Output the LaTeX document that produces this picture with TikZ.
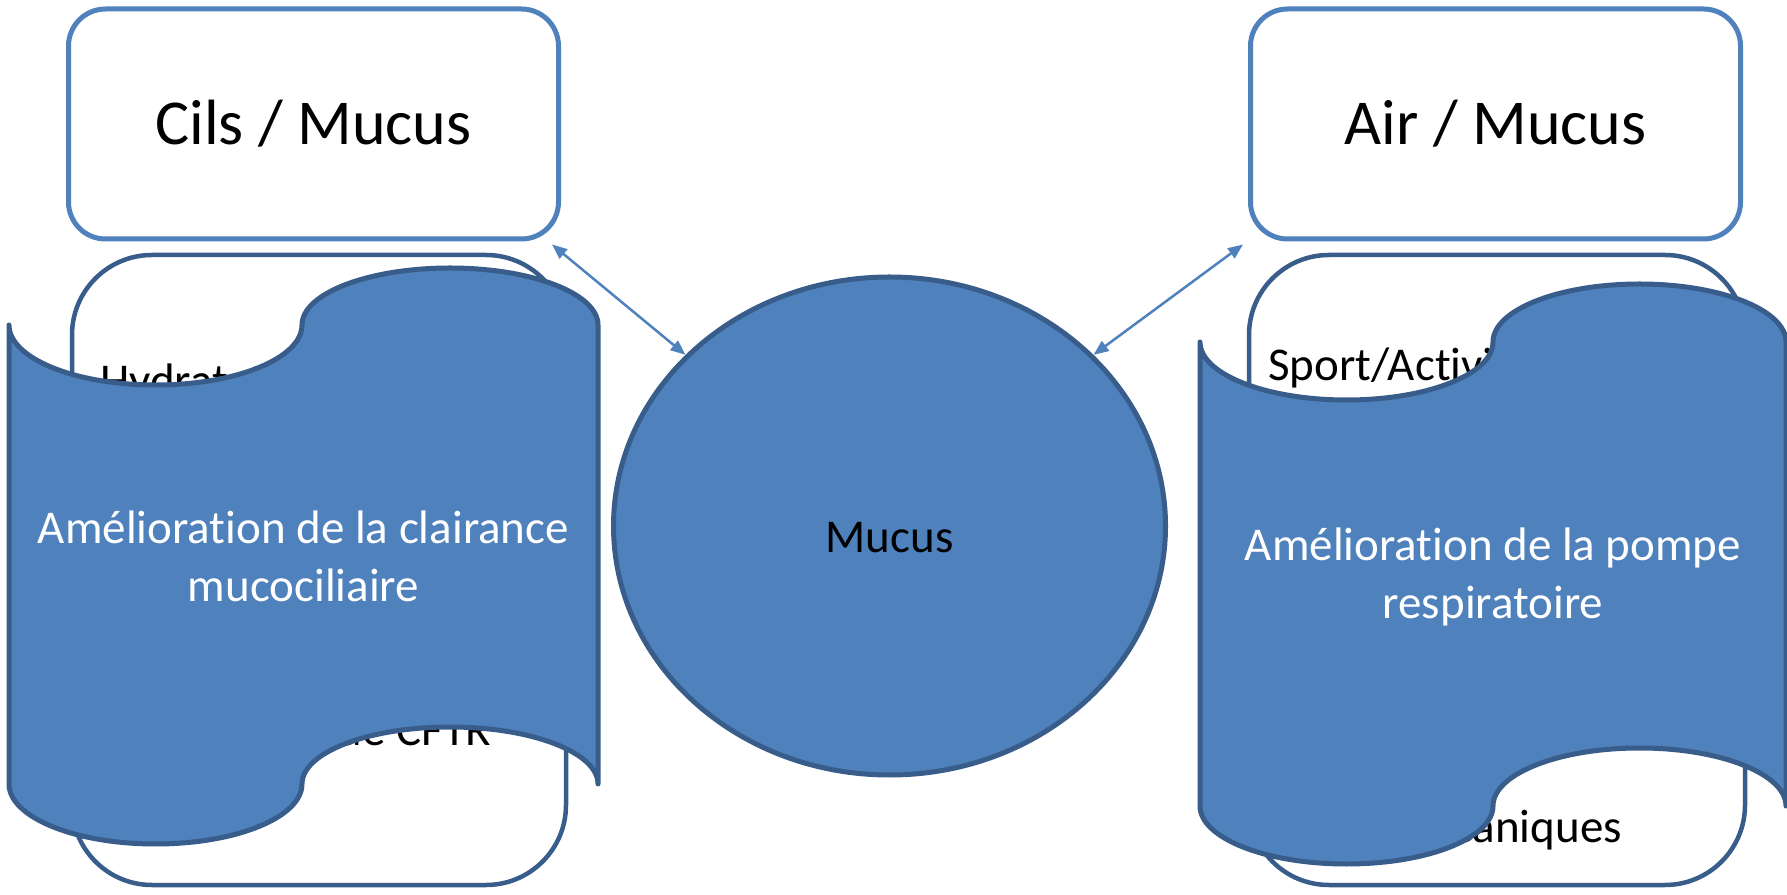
\documentclass[tikz,border=0pt]{standalone}
\usepackage{fontspec}
\setmainfont{Carlito}[Ligatures=CommonOff]
\usetikzlibrary{shapes.geometric,arrows.meta}
\definecolor{accent}{HTML}{4F81BD}
\definecolor{darkline}{HTML}{385D8A}
\tikzset{
  topbox/.style={draw=accent, fill=white, line width=5pt, rounded corners=37pt,
    minimum width=490pt, minimum height=230pt, inner sep=0pt,
    font=\fontsize{64}{77}\selectfont},
  listbox/.style={draw=darkline, fill=white, line width=4.5pt, rounded corners=80pt,
    minimum height=630pt, inner sep=0pt},
  itemtext/.style={anchor=base west, inner sep=0pt, font=\fontsize{47}{58}\selectfont},
  wave/.style={draw=darkline, fill=accent, line width=5pt, line join=round},
  wavetext/.style={text=white, align=center, inner sep=0pt,
    font=\fontsize{47}{58}\selectfont},
  link/.style={draw=accent, line width=2.5pt,
    {Triangle[length=15pt,width=12pt]}-{Triangle[length=15pt,width=12pt]}}
}
\begin{document}
\begin{tikzpicture}[x=1pt,y=1pt]
\useasboundingbox (0,0) rectangle (1787,894);
% top boxes
\node[topbox] (cils) at (313.5,770) {Cils / Mucus};
\node[topbox] (air) at (1495.5,770) {Air / Mucus};
% list boxes
\node[listbox, minimum width=494pt] (leftlist) at (319,324) {};
\node[listbox, minimum width=496pt] (rightlist) at (1497,324) {};
\node[itemtext] (hyd) at (100,497) {Hydratation};
\node[itemtext] (cftr) at (100,148) {Modulateur de CFTR};
\node[itemtext] (sport) at (1268,513) {Sport/Activité physique};
\node[itemtext] (meca) at (1277,52) {Aides mécaniques};
% left wave
\path[wave] (9,569)
  arc[start angle=180, end angle=360, x radius=146.5, y radius=60]
  arc[start angle=180, end angle=0, x radius=148, y radius=57]
  -- (598,110)
  arc[start angle=0, end angle=180, x radius=148, y radius=57]
  arc[start angle=360, end angle=180, x radius=146.5, y radius=60]
  -- cycle;
\node[wavetext] (leftwave) at (303.5,338) {Amélioration de la clairance\\mucociliaire};
% right wave
\path[wave] (1200,552)
  arc[start angle=180, end angle=360, x radius=146.5, y radius=58]
  arc[start angle=180, end angle=0, x radius=146.5, y radius=58]
  -- (1786,88)
  arc[start angle=0, end angle=180, x radius=146.5, y radius=58]
  arc[start angle=360, end angle=180, x radius=146.5, y radius=58]
  -- cycle;
\node[wavetext] (rightwave) at (1493,317) {Amélioration de la pompe\\respiratoire};
% central ellipse
\node[ellipse, draw=darkline, fill=accent, line width=5pt, inner sep=0pt,
  minimum width=552pt, minimum height=498pt] (mucus) at (889.5,368) {};
\node[inner sep=0pt, font=\fontsize{47}{58}\selectfont] (mucuslabel) at ([yshift=-12pt]mucus.center) {Mucus};
% connectors
\path[link] ([xshift=-9pt,yshift=-3pt]cils.south east) -- (mucus.140);
\path[link] ([xshift=-5pt,yshift=-3pt]air.south west) -- (mucus.40);
\end{tikzpicture}
\end{document}
